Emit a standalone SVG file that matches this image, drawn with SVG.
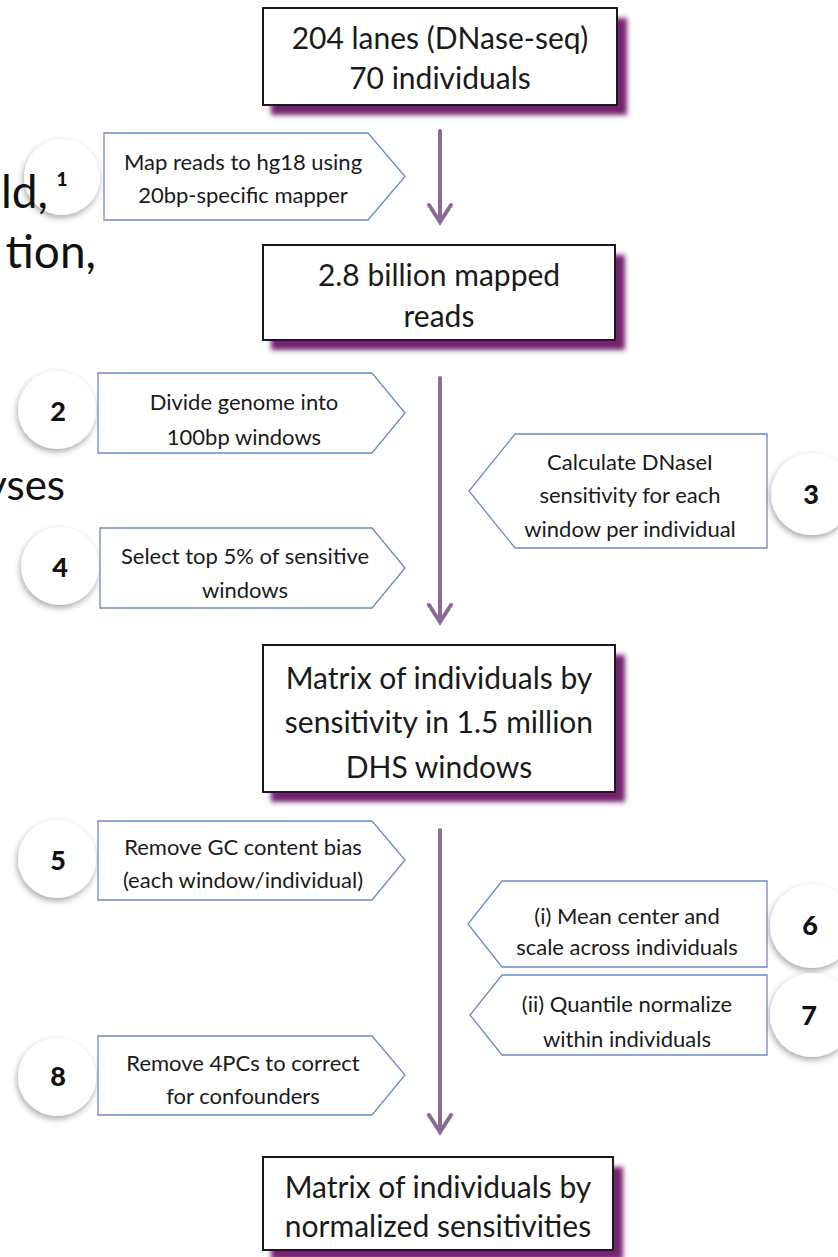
<svg xmlns="http://www.w3.org/2000/svg" width="838" height="1257" viewBox="0 0 838 1257">
<style>
.main{fill:#fff;stroke:#1a1a1a;stroke-width:2}
.shadow{fill:#74226f;filter:url(#blur)}
.mt{font-family:Lato,"Open Sans",sans-serif;font-size:30px;fill:#1a1a1a;text-anchor:middle}
.lab{fill:#fff;stroke:#6a8bc8;stroke-width:1.3}
.lt{font-family:Lato,"Open Sans",sans-serif;font-size:22px;fill:#1a1a1a;text-anchor:middle}
.circ{fill:#fff;filter:url(#cshadow)}
.num{font-family:Lato,"Open Sans",sans-serif;font-size:27px;font-weight:900;fill:#111;text-anchor:middle}
.bg{font-family:Lato,"Open Sans",sans-serif;font-size:46px;fill:#111;text-anchor:end}
.conn{stroke:#8c6a96;stroke-width:4;fill:none;stroke-linecap:round}
</style>
<defs>
<filter id="blur" x="-10%" y="-20%" width="120%" height="140%"><feGaussianBlur stdDeviation="2.5"/></filter>
<filter id="cshadow" x="-30%" y="-30%" width="160%" height="170%"><feDropShadow dx="-1" dy="3" stdDeviation="3" flood-color="#000" flood-opacity="0.35"/></filter>
</defs>
<rect width="838" height="1257" fill="#fff"/>

<g id="connectors">
<path class="conn" d="M440,131 V221 M429,205 L440,222 L451,205"/>
<path class="conn" d="M440,378 V621 M429,605 L440,622 L451,605"/>
<path class="conn" d="M440,830 V1131 M429,1115 L440,1132 L451,1115"/>
</g>

<g id="box1">
<rect class="shadow" x="271" y="18" width="356" height="97"/>
<rect class="main" x="263" y="8" width="354" height="97"/>
<text class="mt" x="440" y="49">204 lanes (DNase-seq)</text>
<text class="mt" x="440" y="89">70 individuals</text>
</g>
<g id="box2">
<rect class="shadow" x="271" y="255" width="354" height="95"/>
<rect class="main" x="263" y="245" width="352" height="95"/>
<text class="mt" x="439" y="286">2.8 billion mapped</text>
<text class="mt" x="439" y="327">reads</text>
</g>
<g id="box3">
<rect class="shadow" x="271" y="655" width="354" height="147"/>
<rect class="main" x="263" y="645" width="352" height="147"/>
<text class="mt" x="439" y="689">Matrix of individuals by</text>
<text class="mt" x="439" y="733">sensitivity in 1.5 million</text>
<text class="mt" x="439" y="778">DHS windows</text>
</g>
<g id="box4">
<rect class="shadow" x="271" y="1167" width="352" height="93"/>
<rect class="main" x="263" y="1157" width="350" height="93"/>
<text class="mt" x="438" y="1198">Matrix of individuals by</text>
<text class="mt" x="438" y="1237">normalized sensitivities</text>
</g>

<g id="step1">
<circle class="circ" cx="62" cy="177" r="38"/>
<text class="num" x="62" y="186" style="font-size:19px">1</text>
<path class="lab" d="M104,133 H368 L405,176.5 L368,220 H104 Z"/>
<text class="lt" x="243" y="170">Map reads to hg18 using</text>
<text class="lt" x="243" y="203">20bp-specific mapper</text>
</g>
<g id="step2">
<circle class="circ" cx="57" cy="410" r="39"/>
<text class="num" x="58" y="421">2</text>
<path class="lab" d="M98,373 H372 L405,413 L372,453 H98 Z"/>
<text class="lt" x="244" y="410">Divide genome into</text>
<text class="lt" x="244" y="445">100bp windows</text>
</g>
<g id="step3">
<circle class="circ" cx="812" cy="494" r="41"/>
<text class="num" x="811" y="504">3</text>
<path class="lab" d="M767,434 H515 L469,491 L515,548 H767 Z"/>
<text class="lt" x="630" y="470">Calculate DNaseI</text>
<text class="lt" x="630" y="503">sensitivity for each</text>
<text class="lt" x="630" y="537">window per individual</text>
</g>
<g id="step4">
<circle class="circ" cx="60" cy="566" r="39"/>
<text class="num" x="60" y="577">4</text>
<path class="lab" d="M100,528 H372 L405,568 L372,608 H100 Z"/>
<text class="lt" x="245" y="564">Select top 5% of sensitive</text>
<text class="lt" x="245" y="598">windows</text>
</g>
<g id="step5">
<circle class="circ" cx="57" cy="859" r="39"/>
<text class="num" x="58" y="870">5</text>
<path class="lab" d="M98,821 H372 L405,860 L372,900 H98 Z"/>
<text class="lt" x="243" y="855">Remove GC content bias</text>
<text class="lt" x="243" y="888">(each window/individual)</text>
</g>
<g id="step6">
<circle class="circ" cx="812" cy="926" r="42"/>
<text class="num" x="810" y="935">6</text>
<path class="lab" d="M767,881 H502 L468,924 L502,967 H767 Z"/>
<text class="lt" x="627" y="924">(i) Mean center and</text>
<text class="lt" x="627" y="955">scale across individuals</text>
</g>
<g id="step7">
<circle class="circ" cx="812" cy="1015" r="42"/>
<text class="num" x="809" y="1025">7</text>
<path class="lab" d="M767,975 H502 L470,1015 L502,1055 H767 Z"/>
<text class="lt" x="627" y="1012">(ii) Quantile normalize</text>
<text class="lt" x="627" y="1047">within individuals</text>
</g>
<g id="step8">
<circle class="circ" cx="57" cy="1077" r="39"/>
<text class="num" x="58" y="1086">8</text>
<path class="lab" d="M98,1036 H372 L405,1075 L372,1115 H98 Z"/>
<text class="lt" x="243" y="1071">Remove 4PCs to correct</text>
<text class="lt" x="243" y="1104">for confounders</text>
</g>

<g id="background-text">
<text class="bg" x="48" y="208">ld,</text>
<text class="bg" x="96" y="268">tion,</text>
<text class="bg" x="65" y="500" style="font-size:42px">yses</text>
</g>
</svg>
